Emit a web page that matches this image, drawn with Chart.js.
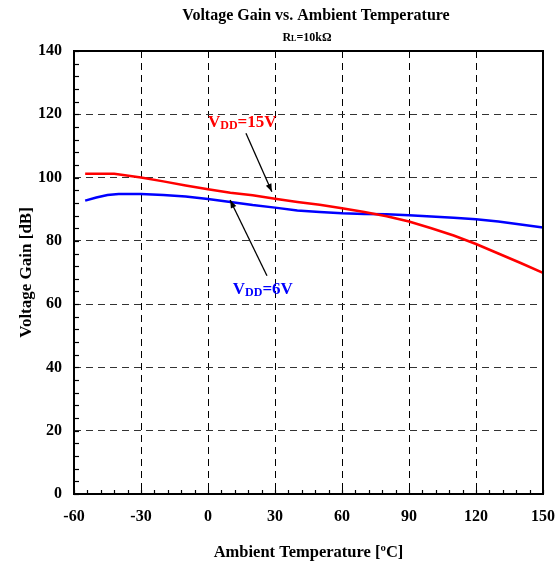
<!DOCTYPE html>
<html><head><meta charset="utf-8">
<script src="https://cdn.jsdelivr.net/npm/chart.js@4/dist/chart.umd.min.js"></script>
<style>html,body{margin:0;padding:0;background:#fff}</style>
</head><body>
<canvas id="c" width="557" height="566"></canvas>
<script>
// ---- data ----
const temps15 = [-55,-42,-30,-20,-10,0,10,20,30,40,50,60,70,80,90,100,110,120,130,140,150];
const gain15  = [101.2,101.2,100.0,98.8,97.5,96.3,95.2,94.4,93.3,92.3,91.4,90.3,89.1,87.8,86.1,84.0,81.7,79.0,76.0,73.0,69.9];
const temps6  = [-55,-50,-45,-40,-30,-20,-10,0,10,20,30,40,50,60,70,80,90,100,110,120,130,140,150];
const gain6   = [92.7,93.7,94.5,94.8,94.8,94.5,94.0,93.2,92.3,91.3,90.5,89.6,89.1,88.7,88.5,88.4,88.1,87.7,87.3,86.8,86.1,85.2,84.2];
const xTickValues = [-60,-30,0,30,60,90,120,150];
const yTickValues = [0,20,40,60,80,100,120,140];
const titleText = 'Voltage Gain vs. Ambient Temperature';
const xTitle = 'Ambient Temperature [ºC]';
const yTitle = 'Voltage Gain [dB]';
// annotation anchors in data units: label position, arrow start, arrow end
const labels = [
  {main:'V', sub:'DD', rest:'=15V', color:'#ff0000', at:[0,116.0], from:[17,114.0], to:[28.6,95.5]},
  {main:'V', sub:'DD', rest:'=6V',  color:'#0000ff', at:[11.1,63.2], from:[26.4,69.0], to:[9.9,92.9]}
];

const SERIF = '"Liberation Serif","Times New Roman",serif';

const decor = {
  id:'decor',
  afterDatasetsDraw(chart){
    const {ctx, chartArea:a, scales:{x,y}} = chart;
    ctx.save();
    // minor/major ticks inward
    ctx.strokeStyle='#000'; ctx.lineWidth=1.2;
    for (let v=-60; v<=150; v+=6){
      const px = Math.round(x.getPixelForValue(v))+0.5;
      ctx.beginPath(); ctx.moveTo(px,a.bottom); ctx.lineTo(px,a.bottom-4); ctx.stroke();
    }
    for (let v=0; v<=140; v+=4){
      const py = Math.round(y.getPixelForValue(v))+0.5;
      ctx.beginPath(); ctx.moveTo(a.left,py); ctx.lineTo(a.left+5,py); ctx.stroke();
    }
    // frame
    ctx.lineWidth=2; ctx.strokeStyle='#000';
    ctx.strokeRect(a.left,a.top,a.right-a.left,a.bottom-a.top);
    // annotations
    labels.forEach(l=>{
      const lx=x.getPixelForValue(l.at[0]), ly=y.getPixelForValue(l.at[1]);
      ctx.fillStyle=l.color; ctx.textBaseline='alphabetic'; ctx.textAlign='left';
      ctx.font='bold 17px '+SERIF;
      ctx.fillText(l.main,lx,ly);
      let w=ctx.measureText(l.main).width;
      ctx.font='bold 12px '+SERIF;
      ctx.fillText(l.sub,lx+w,ly+2);
      w+=ctx.measureText(l.sub).width;
      ctx.font='bold 17px '+SERIF;
      ctx.fillText(l.rest,lx+w,ly);
      const x1=x.getPixelForValue(l.from[0]), y1=y.getPixelForValue(l.from[1]);
      const x2=x.getPixelForValue(l.to[0]), y2=y.getPixelForValue(l.to[1]);
      ctx.strokeStyle='#000'; ctx.lineWidth=1.3;
      ctx.beginPath(); ctx.moveTo(x1,y1); ctx.lineTo(x2,y2); ctx.stroke();
      const ang=Math.atan2(y2-y1,x2-x1), L=8, W=3;
      ctx.fillStyle='#000'; ctx.beginPath();
      ctx.moveTo(x2,y2);
      ctx.lineTo(x2-L*Math.cos(ang)+W*Math.sin(ang), y2-L*Math.sin(ang)-W*Math.cos(ang));
      ctx.lineTo(x2-L*Math.cos(ang)-W*Math.sin(ang), y2-L*Math.sin(ang)+W*Math.cos(ang));
      ctx.closePath(); ctx.fill();
    });
    // title & subtitle
    ctx.fillStyle='#000'; ctx.textAlign='center'; ctx.textBaseline='alphabetic';
    ctx.font='bold 16px '+SERIF;
    ctx.fillText(titleText,316,20);
    const pR='R', pL='L', pRest='=10kΩ';
    ctx.font='bold 12px '+SERIF; const wR=ctx.measureText(pR).width, wRest=ctx.measureText(pRest).width;
    ctx.font='bold 8px '+SERIF; const wL=ctx.measureText(pL).width;
    let sx=307-(wR+wL+wRest)/2; ctx.textAlign='left';
    ctx.font='bold 12px '+SERIF; ctx.fillText(pR,sx,41); sx+=wR;
    ctx.font='bold 8px '+SERIF; ctx.fillText(pL,sx,41); sx+=wL;
    ctx.font='bold 12px '+SERIF; ctx.fillText(pRest,sx,41);
    ctx.restore();
  }
};

new Chart(document.getElementById('c'), {
  type:'line',
  data:{datasets:[
    {label:'VDD=15V', data:temps15.map((t,i)=>({x:t,y:gain15[i]})), borderColor:'#ff0000', borderWidth:2.5, pointRadius:0, tension:0, fill:false},
    {label:'VDD=6V',  data:temps6.map((t,i)=>({x:t,y:gain6[i]})),   borderColor:'#0000ff', borderWidth:2.5, pointRadius:0, tension:0, fill:false}
  ]},
  options:{
    responsive:false, animation:false, devicePixelRatio:1,
    layout:{padding:{top:51,right:14,left:0,bottom:0}},
    plugins:{legend:{display:false},title:{display:false},tooltip:{enabled:false}},
    scales:{
      x:{type:'linear', min:-60, max:150,
        afterBuildTicks(s){ s.ticks = xTickValues.map(v=>({value:v})); },
        afterFit(s){ s.height=72; s.paddingLeft=0; s.paddingRight=0; },
        ticks:{color:'#000', font:{family:SERIF, size:16, weight:'bold'}, padding:13, maxRotation:0},
        grid:{color:'#000', lineWidth:1, drawTicks:false},
        border:{display:false, dash:[7,5]},
        title:{display:true, text:xTitle, color:'#000', font:{family:SERIF,size:16.5,weight:'bold'}, padding:{top:0,bottom:3}}
      },
      y:{type:'linear', min:0, max:140,
        afterBuildTicks(s){ s.ticks = yTickValues.map(v=>({value:v})); },
        afterFit(s){ s.width=74; s.paddingTop=0; s.paddingBottom=0; },
        ticks:{color:'#000', font:{family:SERIF, size:16, weight:'bold'}, padding:12},
        grid:{color:'#333', lineWidth:1, drawTicks:false},
        border:{display:false, dash:[7,5]},
        title:{display:true, text:yTitle, color:'#000', font:{family:SERIF,size:17,weight:'bold'}, padding:{top:16,bottom:0}}
      }
    }
  },
  plugins:[decor]
});
</script>
</body></html>
